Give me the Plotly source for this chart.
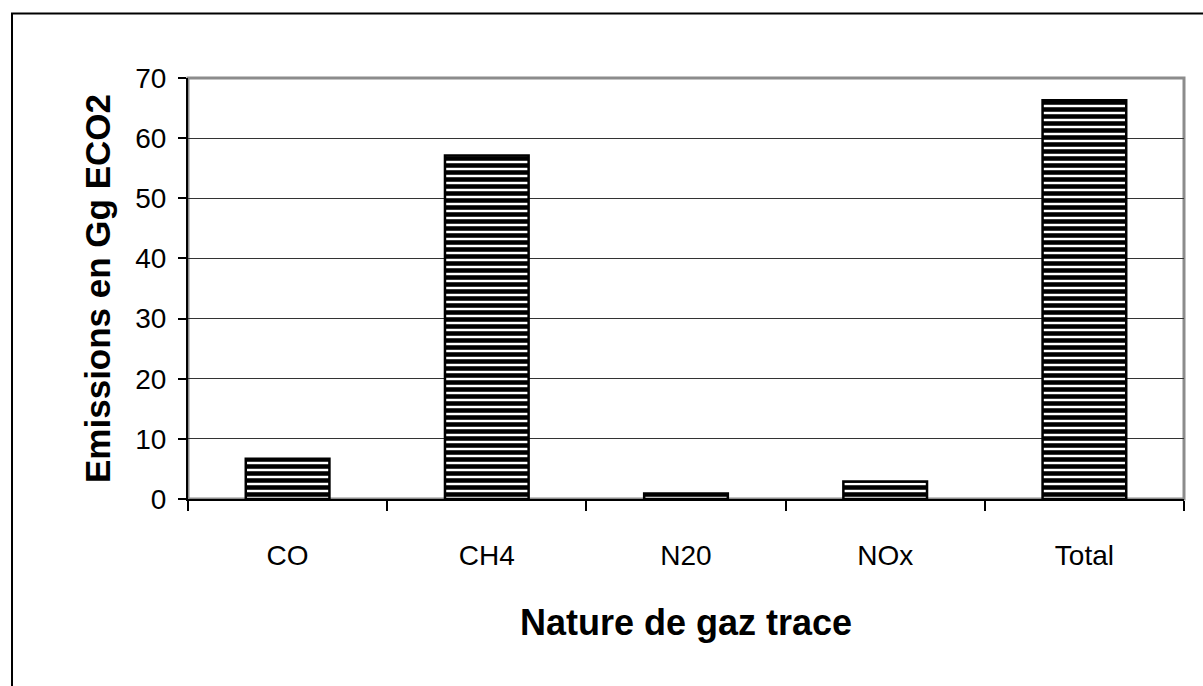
"""Emissions par nature de gaz trace - bar chart with striped fill."""

import plotly.graph_objects as go

gases = ["CO", "CH4", "N20", "NOx", "Total"]
emissions = [6.7, 57.1, 0.9, 2.9, 66.3]

FONT = "Liberation Sans, Arial, sans-serif"

fig = go.Figure(
    go.Bar(
        x=gases,
        y=emissions,
        marker=dict(
            color="black",
            line=dict(color="black", width=2.5),
            pattern=dict(
                shape="-",
                fillmode="replace",
                fgcolor="black",
                fgopacity=1,
                bgcolor="white",
                size=7,
                solidity=0.65,
            ),
        ),
        hovertemplate="%{x}<br>%{y:.1f} Gg ECO2<extra></extra>",
    )
)

fig.update_layout(
    width=1203,
    height=686,
    paper_bgcolor="white",
    plot_bgcolor="white",
    bargap=0.58,
    showlegend=False,
    margin=dict(l=188, r=19, t=78, b=187, autoexpand=False),
    font=dict(family=FONT, color="black", size=28),
    shapes=[
        # outer chart frame (runs off the right and bottom edges)
        dict(type="rect", xref="paper", yref="paper", x0=-0.1767, x1=1.05, y0=-0.48, y1=1.153,
             line=dict(color="black", width=2), layer="below"),
        # plot area frame
        dict(type="rect", xref="paper", yref="paper", x0=0, x1=1, y0=0, y1=1,
             line=dict(color="#8c8c8c", width=3), layer="below"),
    ],
)

fig.update_xaxes(
    type="category",
    range=[-0.5, 4.5],
    showgrid=False,
    showline=True,
    linecolor="black",
    linewidth=2,
    ticks="outside",
    tickson="boundaries",
    ticklen=10,
    tickwidth=2,
    tickcolor="black",
    tickfont=dict(size=28),
    ticklabelstandoff=30,
    title=dict(text="<b>Nature de gaz trace</b>", font=dict(size=36), standoff=40),
)

fig.update_yaxes(
    range=[0, 70],
    dtick=10,
    showgrid=True,
    gridcolor="#333333",
    gridwidth=1.2,
    zeroline=False,
    showline=True,
    linecolor="black",
    linewidth=2,
    ticks="outside",
    ticklen=8,
    tickwidth=1.5,
    tickcolor="black",
    tickfont=dict(size=28),
    ticklabelstandoff=6,
    title=dict(text="<b>Emissions en Gg ECO2</b>", font=dict(size=35), standoff=14),
)

# the page's default body margin would shift the figure by 8px
fig.write_html(
    "out.html",
    config={"displayModeBar": False},
    post_script="document.body.style.margin='0';",
)
